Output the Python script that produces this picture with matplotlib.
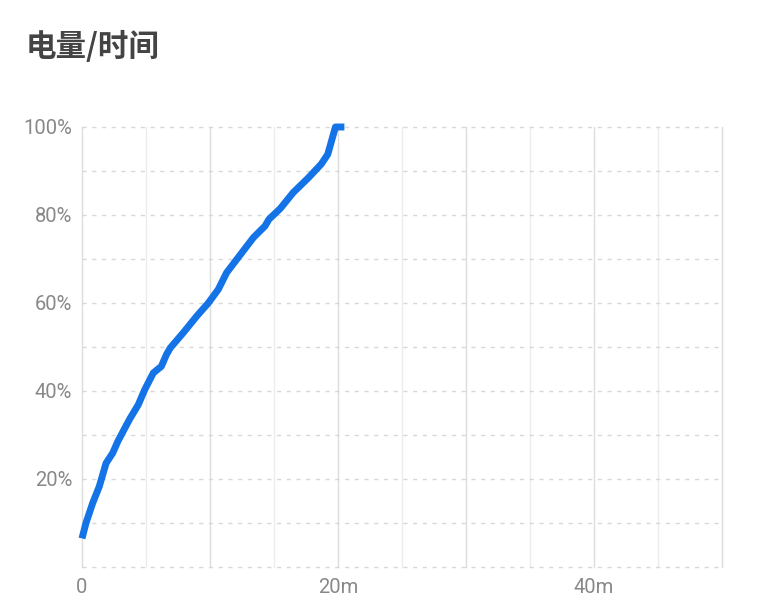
import matplotlib
matplotlib.use("Agg")
import matplotlib.pyplot as plt

# Data (minutes since start, battery %)
minutes = [0, 0.31, 0.83, 1.35, 1.88, 2.4, 2.79, 3.7, 4.4, 4.9, 5.57, 6.2, 6.6, 6.9,
           7.9, 8.96, 9.87, 10.65, 11.3, 12.9, 13.4, 14.3, 14.6, 15.5, 16.5, 17.7,
           18.7, 19.2, 19.5, 19.8, 20.5]
battery = [6.5, 10, 14.5, 18.3, 23.6, 25.9, 28.5, 33.5, 36.9, 40.3, 44.1, 45.6, 48.3,
           49.8, 53.2, 57, 60, 63.1, 66.9, 73, 74.9, 77.5, 79, 81.5, 85.1, 88.5,
           91.6, 93.8, 96.9, 100, 100]

title = "电量/时间"
y_ticks = [20, 40, 60, 80, 100]
y_tick_labels = ["20%", "40%", "60%", "80%", "100%"]
x_ticks = [0, 20, 40]
x_tick_labels = ["0", "20m", "40m"]

fig = plt.figure(figsize=(7.69, 6.14), dpi=100)
ax = fig.add_axes([82 / 769, 1 - 567 / 614, 640 / 769, 440 / 614])
ax.set_xlim(0, 50)
ax.set_ylim(0, 100)

for s in ax.spines.values():
    s.set_visible(False)

# vertical grid lines every 5 minutes
for m in range(0, 51, 5):
    col = "#dcdcdc" if m % 10 == 0 else "#ececec"
    ax.plot([m, m], [0, 100], color=col, lw=1.0, zorder=1, clip_on=False)
# horizontal dashed grid lines every 10%
for p in range(0, 101, 10):
    ax.plot([0, 50], [p, p], color="#d8d8d8", lw=1.0, dashes=(3, 4), zorder=1, clip_on=False)

ax.plot(minutes, battery, color="#1473e6", lw=5.0, solid_capstyle="butt",
        solid_joinstyle="round", zorder=3, clip_on=False)

ax.set_yticks(y_ticks)
ax.set_yticklabels(y_tick_labels)
ax.set_xticks(x_ticks)
ax.set_xticklabels(x_tick_labels)
ax.tick_params(axis="both", length=0, colors="#888888", labelsize=14.5)
ax.tick_params(axis="y", pad=7)
ax.tick_params(axis="x", pad=8)
for lab in ax.get_xticklabels() + ax.get_yticklabels():
    lab.set_fontfamily(["Roboto", "DejaVu Sans"])

fig.text(26 / 769, 1 - 47 / 614, title, fontsize=22, color="#444444",
         family=["Noto Sans CJK SC", "DejaVu Sans"], fontweight="bold",
         va="center", ha="left")

fig.savefig("out.png", dpi=100, facecolor="white")
